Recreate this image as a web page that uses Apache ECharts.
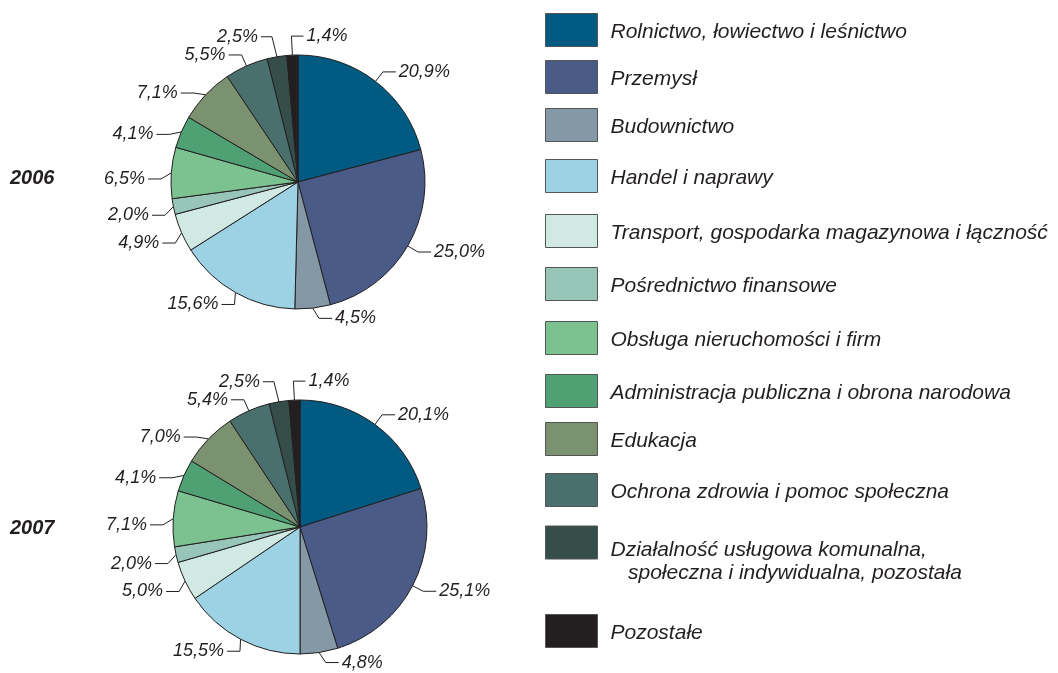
<!DOCTYPE html>
<html>
<head>
<meta charset="utf-8">
<script src="https://cdn.jsdelivr.net/npm/echarts@6/dist/echarts.min.js"></script>
<style>
html,body{margin:0;padding:0;background:#fff;}
#chart{width:1058px;height:673px;}
</style>
</head>
<body>
<div id="chart"></div>
<script>
const categories = [
  'Rolnictwo, łowiectwo i leśnictwo',
  'Przemysł',
  'Budownictwo',
  'Handel i naprawy',
  'Transport, gospodarka magazynowa i łączność',
  'Pośrednictwo finansowe',
  'Obsługa nieruchomości i firm',
  'Administracja publiczna i obrona narodowa',
  'Edukacja',
  'Ochrona zdrowia i pomoc społeczna',
  'Działalność usługowa komunalna, społeczna i indywidualna, pozostała',
  'Pozostałe'
];
const values2006 = [20.9, 25.0, 4.5, 15.6, 4.9, 2.0, 6.5, 4.1, 7.1, 5.5, 2.5, 1.4];
const values2007 = [20.1, 25.1, 4.8, 15.5, 5.0, 2.0, 7.1, 4.1, 7.0, 5.4, 2.5, 1.4];
const years = ['2006', '2007'];
const colors = ['#005a82', '#4a5b87', '#8499a5', '#9dd2e4', '#d0e9e2', '#97c6b9',
                '#7cc190', '#4fa072', '#7b9271', '#4a706e', '#354e4a', '#231f20'];

// layout (not data)
const pieCenters = [[298, 182], [300, 527]];
const pieRadius = 127;
const yearTops = [168, 518];
const legendTops = [13, 60, 108, 159, 214, 267, 321, 374, 422, 473, 500, 614];

const chart = echarts.init(document.getElementById('chart'), null, {renderer: 'canvas'});

function fmt(v) { return v.toFixed(1).replace('.', ',') + '%'; }

const FONT = '"Liberation Sans", Arial, sans-serif';
const TXT = '#231f20';
const SEG1 = 12, SEG2 = 13, GAP = 3;

function makePie(values, idx) {
  return {
    type: 'pie',
    center: pieCenters[idx],
    radius: pieRadius,
    startAngle: 90,
    clockwise: true,
    animation: false,
    avoidLabelOverlap: false,
    data: categories.map((c, i) => ({
      name: c,
      value: values[i],
      itemStyle: {color: colors[i]}
    })),
    itemStyle: {borderColor: '#231f20', borderWidth: 1},
    emphasis: {disabled: true},
    label: {
      show: true,
      position: 'outside',
      formatter: p => fmt(p.value),
      distanceToLabelLine: GAP,
      fontFamily: FONT,
      fontStyle: 'italic',
      fontSize: 18,
      color: TXT
    },
    labelLine: {
      show: true,
      length: SEG1,
      length2: SEG2,
      lineStyle: {color: '#231f20', width: 1}
    },
    labelLayout: function (params) {
      const n = categories.length;
      const pts = params.labelLinePoints;
      if (!pts) return {};
      const p0 = pts[0], p1 = pts[1];
      if (params.dataIndex === n - 1) {
        const p1n = [p0[0] - 1, p0[1] - 19];
        const p2n = [p1n[0] + 12, p1n[1]];
        return {x: p2n[0] + GAP, y: p2n[1], align: 'left', verticalAlign: 'middle',
                labelLinePoints: [p0, p1n, p2n]};
      }
      if (params.dataIndex === n - 2) {
        const p1n = [p0[0] - 5, p0[1] - 20];
        const p2n = [p1n[0] - 11, p1n[1]];
        return {x: p2n[0] - GAP, y: p2n[1], align: 'right', verticalAlign: 'middle',
                labelLinePoints: [p0, p1n, p2n]};
      }
      // radial direction of the slice middle
      const dx = p1[0] - p0[0], dy = p1[1] - p0[1];
      const len = Math.hypot(dx, dy) || 1;
      let theta = Math.atan2(dx / len, -dy / len) * 180 / Math.PI;
      if (theta < 0) theta += 360;
      // bend leader lines downward on the left/bottom
      if (theta >= 230 && theta < 330) theta -= 35;
      else if (theta > 150 && theta < 230) theta -= 25;
      const t = theta * Math.PI / 180;
      const ux = Math.sin(t), uy = -Math.cos(t);
      const p1n = [p0[0] + ux * SEG1, p0[1] + uy * SEG1];
      const side = ux >= 0 ? 1 : -1;
      const p2n = [p1n[0] + side * SEG2, p1n[1]];
      return {x: p2n[0] + side * GAP, y: p2n[1], align: side > 0 ? 'left' : 'right',
              verticalAlign: 'middle', labelLinePoints: [p0, p1n, p2n]};
    }
  };
}

const legends = categories.map((c, i) => {
  const multi = i === 10;
  return {
    data: [c],
    left: 545,
    top: legendTops[i],
    orient: 'vertical',
    padding: 0,
    selectedMode: false,
    icon: 'rect',
    itemWidth: 52,
    itemHeight: 33,
    itemStyle: {borderColor: '#555', borderWidth: 1},
    formatter: name => multi
      ? '{s| }\n{t|Działalność usługowa komunalna,}\n{t|   społeczna i indywidualna, pozostała}'
      : name,
    textStyle: {
      fontFamily: FONT,
      fontStyle: 'italic',
      fontSize: 21,
      color: TXT,
      lineHeight: 24,
      padding: multi ? [0, 0, 0, 8] : [5, 0, 0, 8],
      rich: {
        s: {fontSize: 2, lineHeight: 39},
        t: {fontFamily: FONT, fontStyle: 'italic', fontSize: 21, color: TXT, lineHeight: 23}
      }
    }
  };
});

const option = {
  backgroundColor: '#ffffff',
  animation: false,
  title: years.map((y, i) => ({
    text: y,
    left: 10,
    top: yearTops[i],
    padding: 0,
    textStyle: {
      fontFamily: FONT,
      fontStyle: 'italic',
      fontWeight: 'bold',
      fontSize: 20,
      color: TXT
    }
  })),
  legend: legends,
  series: [makePie(values2006, 0), makePie(values2007, 1)]
};
chart.setOption(option);
</script>
</body>
</html>
